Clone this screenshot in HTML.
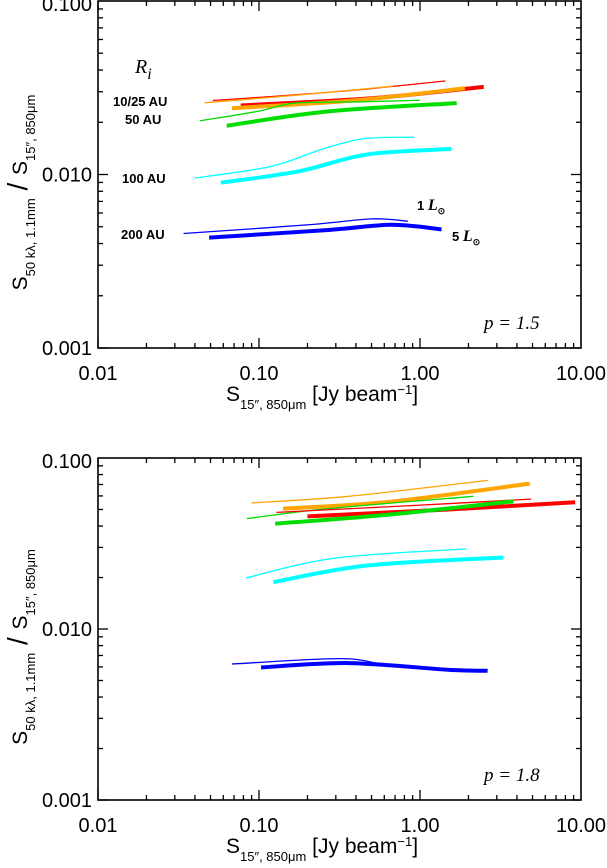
<!DOCTYPE html>
<html><head><meta charset="utf-8"><style>
body{margin:0;background:#fff;}
svg{display:block;font-family:"Liberation Sans",sans-serif;}
</style></head><body>
<svg id="chart" width="607" height="868" viewBox="0 0 607 868" xmlns="http://www.w3.org/2000/svg"></svg>
<script>
// ---- data: panel p=1.5 ----
const colorsTop = ['#ff0000','#ffa500','#ff0000','#ffa500','#00dd00','#00dd00','#00ffff','#00ffff','#0000ff','#0000ff'];
const widthsTop = [1.3,1.3,4,4,1.3,4,1.3,4,1.3,4];
const namesTop = ['red-thin','orange-thin','red-thick','orange-thick','green-thin','green-thick','cyan-thin','cyan-thick','blue-thin','blue-thick'];
const xTop = [
 [0.0515,0.3,1.44],
 [0.046,0.2,0.68],
 [0.077,0.5,2.49],
 [0.068,0.4,1.9],
 [0.043,0.1,0.166,0.4,1.0],
 [0.063,0.27,1.69],
 [0.0399,0.119,0.245,0.45,0.92],
 [0.058,0.176,0.47,1.57],
 [0.034,0.208,0.5,0.84],
 [0.049,0.27,0.66,1.36]
];
const yTop = [
 [0.0267,0.030,0.0346],
 [0.0259,0.029,0.0323],
 [0.025,0.0275,0.032],
 [0.0241,0.0268,0.0314],
 [0.0204,0.0232,0.0258,0.0262,0.0268],
 [0.0191,0.0231,0.0258],
 [0.00953,0.01114,0.01396,0.0161,0.0164],
 [0.00897,0.01043,0.01305,0.01404],
 [0.00457,0.00514,0.00555,0.00538],
 [0.00433,0.00479,0.00513,0.00483]
];
// ---- data: panel p=1.8 ----
const colorsBot = ['#ffa500','#ffa500','#00dd00','#ff0000','#ff0000','#00dd00','#00ffff','#00ffff','#0000ff','#0000ff'];
const widthsBot = [1.3,4,1.3,1.3,4,4,1.3,4,1.3,4];
const namesBot = ['orange-thin','orange-thick','green-thin','red-thin','red-thick','green-thick','cyan-thin','cyan-thick','blue-thin','blue-thick'];
const xBot = [
 [0.09,0.36,2.65],
 [0.141,0.63,4.8],
 [0.084,0.27,2.15],
 [0.128,1.0,4.9],
 [0.2,1.5,9.2],
 [0.126,0.63,3.8],
 [0.083,0.3,1.94],
 [0.123,0.47,3.3],
 [0.068,0.32,0.627,1.52],
 [0.103,0.36,1.52,2.63]
];
const yBot = [
 [0.0546,0.0597,0.074],
 [0.0506,0.0553,0.0708],
 [0.0442,0.0506,0.0597],
 [0.0481,0.053,0.0575],
 [0.0456,0.050,0.0551],
 [0.0413,0.0466,0.0558],
 [0.0199,0.026,0.0294],
 [0.0188,0.0235,0.0262],
 [0.00624,0.00671,0.00617,0.00582],
 [0.00596,0.00632,0.00577,0.0057]
];
const xTickVals = [0.01,0.1,1,10];
const xTickLabels = ['0.01','0.10','1.00','10.00'];
const yTickVals = [0.001,0.01,0.1];
const yTickLabels = ['0.001','0.010','0.100'];

const NS='http://www.w3.org/2000/svg';
const svg=document.getElementById('chart');
function mk(tag,attrs,parent){const e=document.createElementNS(NS,tag);for(const k in attrs)e.setAttribute(k,attrs[k]);(parent||svg).appendChild(e);return e;}

function panel(top,bottom,xs,ys,cols,wids,names,ptext,pname,annot){
  const L=98,R=581;
  const g=mk('g',{});
  
  
  const X=v=>L+(Math.log10(v)+2)/3*(R-L);
  const Y=v=>bottom-(Math.log10(v)+3)/2*(bottom-top);
  for(let s=0;s<xs.length;s++){
    const pts=xs[s].map((x,i)=>[X(x),Y(ys[s][i])]);
    let d='M'+pts[0][0]+','+pts[0][1];
    for(let i=0;i<pts.length-1;i++){
      const p0=pts[Math.max(0,i-1)],p1=pts[i],p2=pts[i+1],p3=pts[Math.min(pts.length-1,i+2)];
      const c1=[p1[0]+(p2[0]-p0[0])/6,p1[1]+(p2[1]-p0[1])/6];
      const c2=[p2[0]-(p3[0]-p1[0])/6,p2[1]-(p3[1]-p1[1])/6];
      d+=' C'+c1+' '+c2+' '+p2;
    }
    const p=mk('path',{d:d,fill:'none',stroke:cols[s],'stroke-width':wids[s]},g);
    
    
  }
  const fr=mk('rect',{x:L,y:top,width:R-L,height:bottom-top,fill:'none',stroke:'#000','stroke-width':1.6},g);
  
  
  for(let dec=-2;dec<1;dec++){for(let m=1;m<=9;m++){const v=m*Math.pow(10,dec);const x=X(v);const len=m==1?10:5;
    mk('line',{x1:x,x2:x,y1:bottom,y2:bottom-len,stroke:'#000','stroke-width':1.3},g);
    mk('line',{x1:x,x2:x,y1:top,y2:top+len,stroke:'#000','stroke-width':1.3},g);}}
  for(let dec=-3;dec<-1;dec++){for(let m=1;m<=9;m++){const v=m*Math.pow(10,dec);const y=Y(v);const len=m==1?10:5;
    mk('line',{x1:L,x2:L+len,y1:y,y2:y,stroke:'#000','stroke-width':1.3},g);
    mk('line',{x1:R,x2:R-len,y1:y,y2:y,stroke:'#000','stroke-width':1.3},g);}}
  xTickVals.forEach((v,i)=>{const t=mk('text',{x:X(v),y:bottom+32,'text-anchor':'middle','font-size':20},g);t.textContent=xTickLabels[i];
    
    });
  yTickVals.forEach((v,i)=>{const t=mk('text',{x:92,y:Y(v)+7+(i==2?3:0),'text-anchor':'end','font-size':20},g);t.textContent=yTickLabels[i];
    
    });
  const xt=mk('text',{x:226,y:bottom+53,'font-size':21},g);
  
  
  xt.innerHTML='S<tspan font-size="13" dy="8">15\u2033, 850\u03bcm</tspan><tspan dy="-8"> [Jy beam</tspan><tspan font-size="13" dy="-7">\u22121</tspan><tspan dy="7">]</tspan>';
  const cy=(top+bottom)/2+18;
  const yt=mk('text',{x:0,y:0,'font-size':21,'text-anchor':'middle',transform:'translate(27,'+cy+') rotate(-90)'},g);
  
  
  yt.innerHTML='S<tspan font-size="13" dy="8">50 k\u03bb, 1.1mm</tspan><tspan dy="-8" font-size="28"> / </tspan>S<tspan font-size="13" dy="8">15\u2033, 850\u03bcm</tspan>';
  const pt=mk('text',{x:484,y:bottom-19,'font-size':19,'font-style':'italic','font-family':'Liberation Serif, serif'},g);
  pt.textContent=ptext;
  
  
  if(annot){annot.forEach(a=>{const t=mk('text',{x:a[0],y:a[1],'font-size':a[3]||13,'font-weight':'bold'},g);t.innerHTML=a[2];
    
    });}
}
panel(1,348,xTop,yTop,colorsTop,widthsTop,namesTop,'p = 1.5','panel-p15',[
 [135,73,'<tspan font-family="Liberation Serif,serif" font-style="italic" font-weight="normal" font-size="20">R</tspan><tspan font-family="Liberation Serif,serif" font-style="italic" font-weight="normal" font-size="16" dy="6">i</tspan>',13,'ri-label'],
 [113,106,'10/25 AU',13,'label-10-25au'],
 [125,124,'50 AU',13,'label-50au'],
 [122,183,'100 AU',13,'label-100au'],
 [121,239,'200 AU',13,'label-200au'],
 [417,210,'1 <tspan font-family="Liberation Serif,serif" font-style="italic" font-size="16">L</tspan><tspan font-size="9" dy="4">\u2299</tspan>',13,'label-1-lsun'],
 [452,241,'5 <tspan font-family="Liberation Serif,serif" font-style="italic" font-size="16">L</tspan><tspan font-size="9" dy="4">\u2299</tspan>',13,'label-5-lsun']
]);
panel(458,800,xBot,yBot,colorsBot,widthsBot,namesBot,'p = 1.8','panel-p18',null);
</script>
</body></html>
